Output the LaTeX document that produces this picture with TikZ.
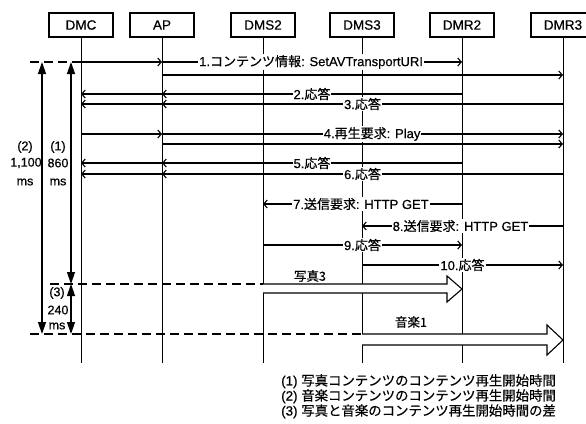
\documentclass[tikz,border=0pt]{standalone}
\usepackage{fontspec}
\setmainfont{Liberation Sans}[FakeBold=0.5]
\newfontfamily\jp{Noto Sans CJK JP}[FakeBold=0.5]
\usetikzlibrary{arrows.meta}
\begin{document}
\begin{tikzpicture}[x=1pt,y=-1pt,
  hdr/.style={draw,line width=1.1pt,minimum width=64pt,minimum height=24pt,inner sep=0pt,font=\fontsize{13.5}{14}\selectfont},
  life/.style={line width=0.9pt},
  msg/.style={line width=1.1pt,-{Straight Barb[length=3.5pt,width=8pt]}},
  lbl/.style={fill=white,inner sep=1pt,font=\fontsize{13}{13}\selectfont},
  dim/.style={line width=1.3pt,{Triangle[length=12pt,width=8pt]}-{Triangle[length=12pt,width=8pt]}},
  dsh/.style={line width=1.4pt,dash pattern=on 9pt off 5pt},
  blk/.style={draw,line width=1.1pt,fill=white},
  txt/.style={font=\fontsize{12.5}{13}\selectfont,inner sep=0pt}
]
\useasboundingbox (0,0) rectangle (586,423);

% headers and lifelines
\foreach \n/\t/\x in {dmc/DMC/81, ap/AP/162, dms2/DMS2/263, dms3/DMS3/362, dmr2/DMR2/462, dmr3/DMR3/563}{
  \node[hdr] (\n) at (\x,25) {\t};
  \coordinate (\n-e) at (\x,363);
  \draw[life] (\n) -- (\n-e);
}

% 1
\draw[msg] (dmc |- 0,62) -- (ap |- 0,62);
\draw[msg] (ap |- 0,62) -- node[lbl,pos=0.497] (m1) {1.{\jp コンテンツ情報}: SetAVTransportURI} (dmr2 |- 0,62);
\draw[msg] (ap |- 0,75) -- (dmr3 |- 0,75);
% 2
\draw[msg] (dmr2 |- 0,94) -- node[lbl] (m2) {2.{\jp 応答}} (ap |- 0,94);
\draw[msg] (ap |- 0,94) -- (dmc |- 0,94);
% 3
\draw[msg] (dmr3 |- 0,104) -- node[lbl] (m3) {3.{\jp 応答}} (ap |- 0,104);
\draw[msg] (ap |- 0,104) -- (dmc |- 0,104);
% 4
\draw[msg] (dmc |- 0,134) -- (ap |- 0,134);
\draw[msg] (ap |- 0,134) -- node[lbl,pos=0.524] (m4) {4.{\jp 再生要求}: Play} (dmr3 |- 0,134);
\draw[msg] (ap |- 0,144) -- (dmr3 |- 0,144);
% 5
\draw[msg] (dmr2 |- 0,163) -- node[lbl] (m5) {5.{\jp 応答}} (ap |- 0,163);
\draw[msg] (ap |- 0,163) -- (dmc |- 0,163);
% 6
\draw[msg] (dmr3 |- 0,174) -- node[lbl] (m6) {6.{\jp 応答}} (ap |- 0,174);
\draw[msg] (ap |- 0,174) -- (dmc |- 0,174);
% 7
\draw[msg] (dmr2 |- 0,204) -- node[lbl,pos=0.508] (m7) {7.{\jp 送信要求}: HTTP GET} (dms2 |- 0,204);
% 8
\draw[msg] (dmr3 |- 0,226) -- node[lbl,pos=0.51] (m8) {8.{\jp 送信要求}: HTTP GET} (dms3 |- 0,226);
% 9
\draw[msg] (dms2 |- 0,245) -- node[lbl] (m9) {9.{\jp 応答}} (dmr2 |- 0,245);
% 10
\draw[msg] (dms3 |- 0,265) -- node[lbl] (m10) {10.{\jp 応答}} (dmr3 |- 0,265);

% block arrows
\draw[blk] (dms2 |- 0,284) -- (447,284) -- (447,276) -- (dmr2 |- 0,289) -- (447,302) -- (447,293) -- (dms2 |- 0,293);
\node[txt] (ph3) at (310,276) {\jp 写真3};
\draw[blk] (dms3 |- 0,334) -- (547,334) -- (547,325) -- (dmr3 |- 0,340) -- (547,355) -- (547,345) -- (dms3 |- 0,345);
\node[txt] (mu1) at (411,322) {\jp 音楽1};

% dashed reference lines
\coordinate (t0) at (30,62);
\coordinate (m0) at (50,284);
\coordinate (b0) at (30,334);
\draw[dsh] (t0) -- (dmc |- 0,62);
\draw[dsh] (m0) -- (dms2 |- 0,284);
\draw[dsh] (b0) -- (dms3 |- 0,334);

% dimension arrows
\coordinate (d2a) at (42,62);  \coordinate (d2b) at (42,334);
\coordinate (d1a) at (71,62);  \coordinate (d1b) at (71,284);
\coordinate (d3b) at (71,334);
\draw[dim] (d2a) -- (d2b);
\draw[dim] (d1a) -- (d1b);
\draw[dim] (d1b) -- (d3b);

\node[txt] (l2a) at (25,147) {(2)};
\node[txt] (l2b) at (26,163) {1,100};
\node[txt] (l2c) at (25,182) {ms};
\node[txt] (l1a) at (58,147) {(1)};
\node[txt] (l1b) at (58,163) {860};
\node[txt] (l1c) at (58,182) {ms};
\node[txt] (l3a) at (57,293) {(3)};
\node[txt] (l3b) at (58,310) {240};
\node[txt] (l3c) at (57,326) {ms};

% legend
\node[anchor=north west,align=left,inner sep=0pt,font=\fontsize{13.4}{12.6}\selectfont] (leg) at (281,374)
  {(1) {\jp 写真コンテンツのコンテンツ再生開始時間}\\
   (2) {\jp 音楽コンテンツのコンテンツ再生開始時間}\\
   (3) {\jp 写真と音楽のコンテンツ再生開始時間の差}};
\end{tikzpicture}
\end{document}
